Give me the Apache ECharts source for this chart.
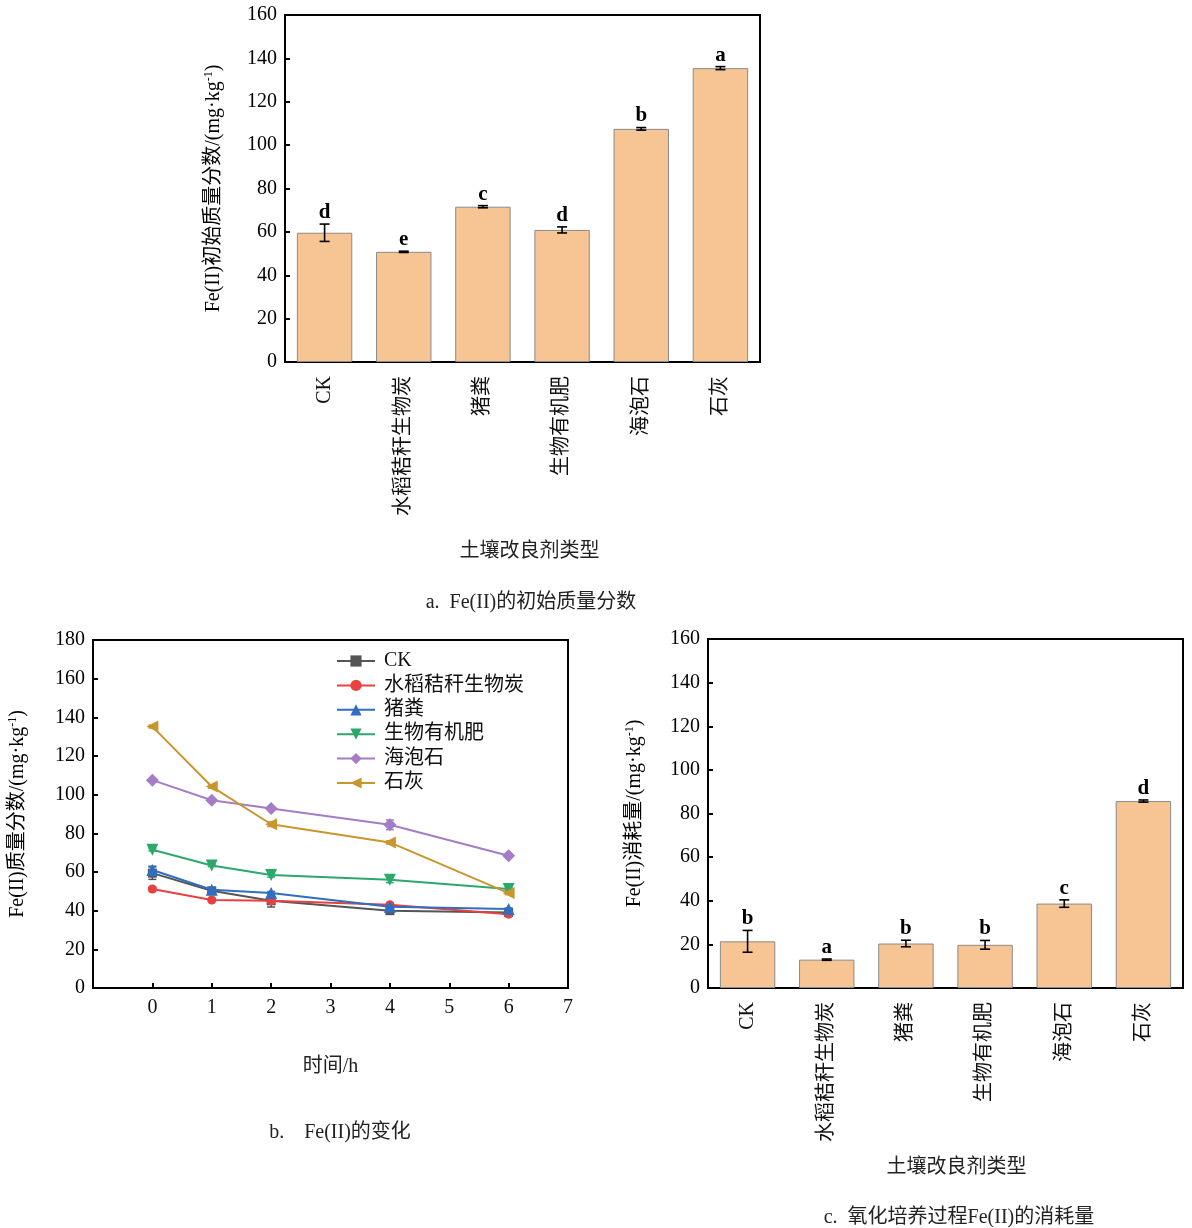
<!DOCTYPE html>
<html>
<head>
<meta charset="utf-8">
<script src="https://cdn.jsdelivr.net/npm/echarts@6/dist/echarts.min.js"></script>
<style>
html,body{margin:0;padding:0;background:#fff;}
#main{width:1192px;height:1228px;}
</style>
</head>
<body>
<div id="main"></div>
<script>
// ---------- DATA ----------
const categories = ['CK', '水稻秸秆生物炭', '猪粪', '生物有机肥', '海泡石', '石灰'];
// chart a: initial Fe(II)
const initValues = [59.6, 50.8, 71.6, 60.9, 107.5, 135.5];
const initErrors = [4.0, 0.3, 0.5, 1.4, 0.6, 0.7];
const initLetters = ['d', 'e', 'c', 'd', 'b', 'a'];
// chart b: Fe(II) change over time
const times = [0, 1, 2, 4, 6];
const seriesNames = ['CK', '水稻秸秆生物炭', '猪粪', '生物有机肥', '海泡石', '石灰'];
const ckValues = [59.4, 50.3, 45.1, 40.0, 39.0];
const ckErrors = [3.2, 0.8, 3.2, 0.8, 0.6];
const biocharValues = [51.2, 45.5, 45.1, 43.1, 38.2];
const biocharErrors = [1.0, 0.8, 0.8, 0.8, 1.0];
const manureValues = [61.0, 50.8, 49.1, 42.0, 40.8];
const manureErrors = [2.0, 1.0, 0.8, 0.8, 0.6];
const organicValues = [71.5, 63.4, 58.4, 56.0, 51.2];
const organicErrors = [0.6, 0.6, 1.0, 1.5, 0.6];
const sepioliteValues = [107.5, 97.1, 92.8, 84.4, 68.4];
const sepioliteErrors = [0.6, 0.8, 0.8, 2.5, 0.8];
const limeValues = [135.2, 104.2, 84.7, 75.3, 49.1];
const limeErrors = [0.7, 0.8, 1.2, 0.8, 0.8];
// chart c: consumption
const consValues = [21.4, 13.0, 20.4, 19.8, 38.7, 85.7];
const consErrors = [5.0, 0.3, 1.5, 2.0, 1.7, 0.5];
const consLetters = ['b', 'a', 'b', 'b', 'c', 'd'];
// tick settings
const yTicksBar = {min: 0, max: 160, interval: 20};
const yTicksLine = {min: 0, max: 180, interval: 20};
const xTicksLine = {min: -1, max: 7, interval: 1};

// ---------- STYLE ----------
const FONT = '"Liberation Serif", "Times New Roman", "Noto Sans CJK SC", serif';
const CJK = '"Noto Sans CJK SC", "Liberation Serif", sans-serif';
const lineColors = ['#555555', '#e8403f', '#2f6ec0', '#2ca86a', '#a57cc6', '#c9962e'];
const lineSymbols = ['rect', 'circle', 'triangle', 'triangle', 'diamond', 'triangle'];
const lineSymbolRotate = [0, 0, 0, 180, 0, 90];
const lineSymbolSize = [9, 9, 12, 12, 13, 12];
const barColor = '#f6c593';

const chart = echarts.init(document.getElementById('main'), null, {renderer: 'canvas'});

const richName = {
  sup: {fontSize: 12, fontFamily: FONT, color: '#000', verticalAlign: 'top', padding: [0, 0, 10, 0]}
};

function yAxisBar(gridIndex, name) {
  return {
    type: 'value', gridIndex, min: yTicksBar.min, max: yTicksBar.max, interval: yTicksBar.interval,
    name, nameLocation: 'middle', nameGap: 60, nameRotate: 90,
    nameTextStyle: {fontSize: 20, fontFamily: FONT, color: '#000', rich: richName},
    axisLine: {show: true, onZero: false, lineStyle: {color: '#000', width: 2}},
    axisTick: {show: true, inside: true, length: 5, lineStyle: {color: '#000', width: 2}},
    axisLabel: {fontSize: 20, fontFamily: FONT, color: '#000', margin: 8},
    splitLine: {show: false}
  };
}
function xAxisCat(gridIndex, nameGap, padLeft) {
  return {
    type: 'category', gridIndex, data: categories,
    name: '土壤改良剂类型', nameLocation: 'middle', nameGap,
    nameTextStyle: {fontSize: 20, fontFamily: CJK, color: '#222', padding: [0, 0, 0, padLeft]},
    axisLine: {show: true, lineStyle: {color: '#000', width: 2}},
    axisTick: {show: false},
    axisLabel: {rotate: 90, fontSize: 20, fontFamily: FONT, color: '#111', margin: 14, interval: 0},
    splitLine: {show: false}
  };
}

function makeErrRender(values, errors, letters) {
  return function (params, api) {
    const i = params.dataIndex;
    const xv = api.value(0), v = api.value(1), e = api.value(2);
    const top = api.coord([xv, v + e]);
    const bot = api.coord([xv, v - e]);
    const cw = 5;
    const st = {stroke: '#000', lineWidth: 1.6};
    const children = [
      {type: 'line', shape: {x1: top[0], y1: top[1], x2: bot[0], y2: bot[1]}, style: st},
      {type: 'line', shape: {x1: top[0] - cw, y1: top[1], x2: top[0] + cw, y2: top[1]}, style: st},
      {type: 'line', shape: {x1: bot[0] - cw, y1: bot[1], x2: bot[0] + cw, y2: bot[1]}, style: st}
    ];
    if (letters) {
      children.push({
        type: 'text',
        style: {text: letters[i], x: top[0], y: top[1] - 1, textAlign: 'center', textVerticalAlign: 'bottom',
          font: 'bold 21px ' + FONT, fill: '#000'}
      });
    }
    return {type: 'group', children};
  };
}

function barErrData(values, errors) {
  return values.map((v, i) => [i, v, errors[i]]);
}

const lineValues = [ckValues, biocharValues, manureValues, organicValues, sepioliteValues, limeValues];
const lineErrors = [ckErrors, biocharErrors, manureErrors, organicErrors, sepioliteErrors, limeErrors];

const lineSeries = [];
seriesNames.forEach((nm, k) => {
  lineSeries.push({
    name: nm, type: 'line', xAxisIndex: 1, yAxisIndex: 1,
    data: times.map((t, j) => [t, lineValues[k][j]]),
    symbol: lineSymbols[k], symbolRotate: lineSymbolRotate[k], symbolSize: lineSymbolSize[k],
    lineStyle: {color: lineColors[k], width: 2},
    itemStyle: {color: lineColors[k]},
    z: 3 + k
  });
});
seriesNames.forEach((nm, k) => {
  lineSeries.push({
    type: 'custom', xAxisIndex: 1, yAxisIndex: 1, z: 3 + k,
    data: times.map((t, j) => [t, lineValues[k][j], lineErrors[k][j]]),
    renderItem: function (params, api) {
      const xv = api.value(0), v = api.value(1), e = api.value(2);
      const top = api.coord([xv, v + e]);
      const bot = api.coord([xv, v - e]);
      const cw = 4;
      const st = {stroke: lineColors[k], lineWidth: 1.5};
      return {type: 'group', children: [
        {type: 'line', shape: {x1: top[0], y1: top[1], x2: bot[0], y2: bot[1]}, style: st},
        {type: 'line', shape: {x1: top[0] - cw, y1: top[1], x2: top[0] + cw, y2: top[1]}, style: st},
        {type: 'line', shape: {x1: bot[0] - cw, y1: bot[1], x2: bot[0] + cw, y2: bot[1]}, style: st}
      ]};
    }
  });
});

const option = {
  backgroundColor: '#fff',
  animation: false,
  textStyle: {fontFamily: FONT},
  title: [
    {text: 'a.  Fe(II)的初始质量分数', left: 526, top: 588, textAlign: 'center',
      textStyle: {fontSize: 20, fontWeight: 'normal', fontFamily: FONT, color: '#222'}},
    {text: 'b.    Fe(II)的变化', left: 335, top: 1118, textAlign: 'center',
      textStyle: {fontSize: 20, fontWeight: 'normal', fontFamily: FONT, color: '#222'}},
    {text: 'c.  氧化培养过程Fe(II)的消耗量', left: 954, top: 1203, textAlign: 'center',
      textStyle: {fontSize: 20, fontWeight: 'normal', fontFamily: FONT, color: '#222'}}
  ],
  legend: {
    data: seriesNames,
    left: 331, top: 646, orient: 'vertical', itemGap: 4.4,
    itemWidth: 38, itemHeight: 14,
    textStyle: {fontSize: 20, fontFamily: FONT, color: '#111', lineHeight: 20, padding: [0, 0, 0, 4]}
  },
  grid: [
    {left: 285, top: 15, width: 475, height: 347, show: true, borderColor: '#000', borderWidth: 2, backgroundColor: 'transparent'},
    {left: 93, top: 640, width: 475, height: 348, show: true, borderColor: '#000', borderWidth: 2, backgroundColor: 'transparent'},
    {left: 708, top: 639, width: 475, height: 349, show: true, borderColor: '#000', borderWidth: 2, backgroundColor: 'transparent'}
  ],
  xAxis: [
    xAxisCat(0, 177, 14),
    {
      type: 'value', gridIndex: 1, min: xTicksLine.min, max: xTicksLine.max, interval: xTicksLine.interval,
      name: '时间/h', nameLocation: 'middle', nameGap: 69,
      nameTextStyle: {fontSize: 20, fontFamily: FONT, color: '#222'},
      axisLine: {show: true, onZero: false, lineStyle: {color: '#000', width: 2}},
      axisTick: {show: true, inside: true, length: 5, lineStyle: {color: '#000', width: 2}},
      axisLabel: {fontSize: 20, fontFamily: FONT, color: '#111', margin: 10,
        formatter: v => (v < 0 ? '' : String(v))},
      splitLine: {show: false}
    },
    xAxisCat(2, 167, 22)
  ],
  yAxis: [
    yAxisBar(0, 'Fe(II)初始质量分数/(mg·kg{sup|-1})'),
    Object.assign(yAxisBar(1, 'Fe(II)质量分数/(mg·kg{sup|-1})'),
      {min: yTicksLine.min, max: yTicksLine.max, interval: yTicksLine.interval, nameGap: 64}),
    Object.assign(yAxisBar(2, 'Fe(II)消耗量/(mg·kg{sup|-1})'), {nameGap: 62})
  ],
  series: [
    {
      type: 'bar', xAxisIndex: 0, yAxisIndex: 0, data: initValues, barWidth: '70%',
      itemStyle: {color: barColor, borderColor: '#8a8a8a', borderWidth: 1}
    },
    {
      type: 'custom', xAxisIndex: 0, yAxisIndex: 0, z: 5,
      data: barErrData(initValues, initErrors),
      renderItem: makeErrRender(initValues, initErrors, initLetters)
    },
    {
      type: 'bar', xAxisIndex: 2, yAxisIndex: 2, data: consValues, barWidth: '70%',
      itemStyle: {color: barColor, borderColor: '#8a8a8a', borderWidth: 1}
    },
    {
      type: 'custom', xAxisIndex: 2, yAxisIndex: 2, z: 5,
      data: barErrData(consValues, consErrors),
      renderItem: makeErrRender(consValues, consErrors, consLetters)
    }
  ].concat(lineSeries)
};
chart.setOption(option);
</script>
</body>
</html>
